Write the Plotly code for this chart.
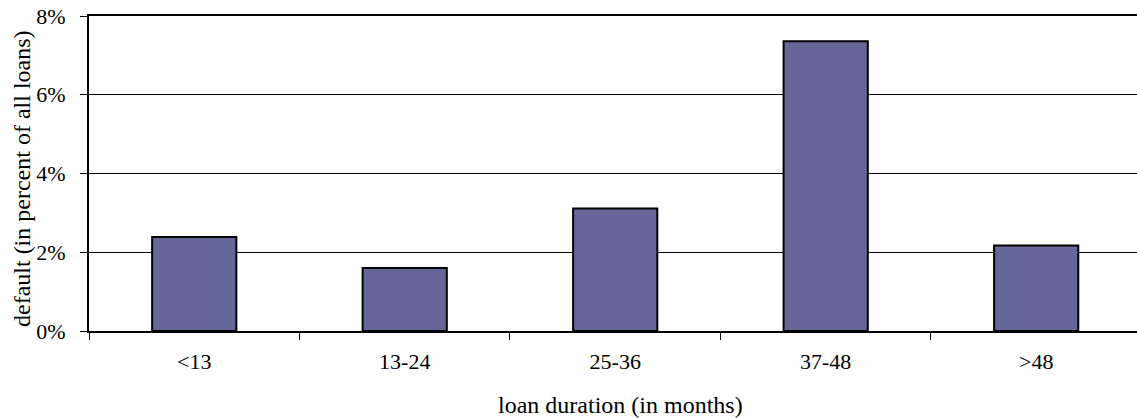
import plotly.graph_objects as go

# Loan default rate by loan duration bucket
categories = ["<13", "13-24", "25-36", "37-48", ">48"]
default_rate = [2.39, 1.60, 3.11, 7.36, 2.17]  # percent of all loans
y_ticks = [0, 2, 4, 6, 8]
y_tick_labels = ["0%", "2%", "4%", "6%", "8%"]

FONT = "Liberation Serif"

fig = go.Figure(
    go.Bar(
        x=categories,
        y=default_rate,
        width=0.4,
        marker=dict(color="#666699", line=dict(color="black", width=2)),
    )
)

fig.update_layout(
    width=1137,
    height=418,
    margin=dict(l=89, r=0, t=16, b=87),
    paper_bgcolor="white",
    plot_bgcolor="white",
    font=dict(family=FONT, size=22, color="black"),
    showlegend=False,
)

fig.update_xaxes(
    type="category",
    range=[-0.5, 4.479],
    showline=True,
    linecolor="black",
    linewidth=2,
    mirror=True,
    ticks="outside",
    tickson="boundaries",
    ticklen=7,
    tickcolor="black",
    tickwidth=1,
    showgrid=False,
    tickfont=dict(family=FONT, size=22),
    ticklabelstandoff=10,
)

fig.update_yaxes(
    range=[0, 8],
    tickvals=y_ticks,
    ticktext=y_tick_labels,
    showline=True,
    linecolor="black",
    linewidth=2,
    ticks="outside",
    ticklen=7,
    tickcolor="black",
    tickwidth=1,
    showgrid=True,
    gridcolor="black",
    gridwidth=1,
    zeroline=False,
    tickfont=dict(family=FONT, size=22),
    ticklabelstandoff=10,
)

plot_w = 1137 - 89
plot_h = 418 - 16 - 87

fig.add_annotation(
    text="loan duration (in months)",
    xref="paper", yref="paper",
    x=(620 - 89) / plot_w, y=-(405 - 331) / plot_h,
    xanchor="center", yanchor="middle",
    showarrow=False,
    font=dict(family=FONT, size=24),
)

fig.add_annotation(
    text="default (in percent of all loans)",
    xref="paper", yref="paper",
    x=-(89 - 22) / plot_w, y=(331 - 179) / plot_h,
    xanchor="center", yanchor="middle",
    textangle=-90,
    showarrow=False,
    font=dict(family=FONT, size=24),
)

fig.write_html("out.html")
